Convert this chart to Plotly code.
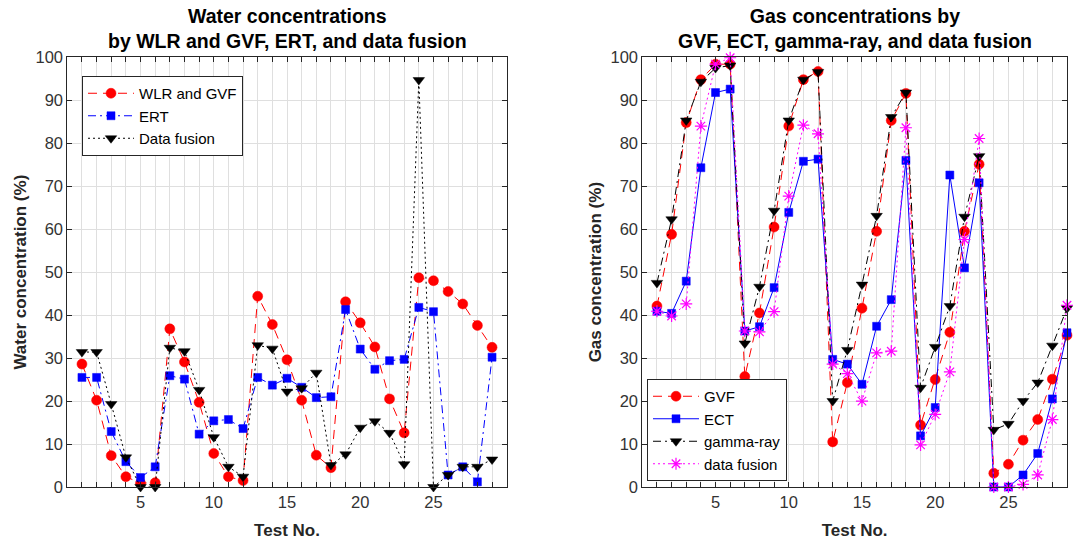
import plotly.graph_objects as go

W, H = 1073, 540

tests = list(range(1, 30))

# Left panel: water concentrations (%)
water_wlr_gvf = [28.6, 20.2, 7.3, 2.4, 0.9, 1.0, 36.8, 29.1, 19.7, 7.8, 2.4, 1.5, 44.4, 37.8, 29.6,
                 20.2, 7.4, 4.5, 43.1, 38.2, 32.6, 20.5, 12.6, 48.7, 48.0, 45.5, 42.6, 37.6, 32.5]
water_ert = [25.5, 25.5, 12.9, 5.9, 2.2, 4.7, 25.9, 25.1, 12.3, 15.4, 15.7, 13.6, 25.5, 23.7, 25.3,
             23.2, 20.8, 21.0, 41.3, 32.1, 27.4, 29.4, 29.7, 41.8, 40.8, 2.8, 4.7, 1.2, 30.2]
water_fusion = [31.4, 31.4, 19.3, 6.9, 0.0, 0.0, 32.4, 31.6, 22.6, 11.6, 4.7, 2.4, 33.0, 32.2, 22.2,
                23.0, 26.6, 5.1, 7.6, 13.8, 15.3, 12.6, 5.3, 94.7, 0.0, 2.8, 4.7, 4.7, 6.4]

# Right panel: gas concentrations (%)
gas_gvf = [42.1, 58.8, 84.8, 94.8, 98.4, 98.4, 25.7, 40.5, 60.5, 84.0, 94.8, 96.7, 10.5, 24.3, 41.6,
           59.5, 85.3, 91.6, 14.4, 25.0, 36.0, 59.5, 75.1, 3.2, 5.3, 10.9, 15.7, 25.1, 35.3]
gas_ect = [40.9, 40.4, 47.9, 74.3, 91.8, 92.6, 36.3, 37.3, 46.4, 63.9, 75.8, 76.3, 29.7, 28.6, 23.9,
           37.4, 43.6, 76.0, 11.9, 18.5, 72.6, 51.0, 70.8, 0.0, 0.0, 2.8, 7.8, 20.5, 35.9]
gas_gamma = [47.5, 62.3, 85.3, 94.3, 97.5, 98.1, 33.4, 46.6, 64.3, 85.3, 94.8, 96.6, 20.0, 31.9, 47.1,
             63.1, 86.1, 91.8, 23.1, 32.6, 42.1, 62.9, 77.0, 13.3, 14.7, 20.0, 24.3, 32.9, 41.6]
gas_fusion = [40.9, 39.8, 42.6, 84.0, 98.4, 99.9, 36.3, 36.1, 40.8, 67.7, 84.2, 82.2, 28.6, 26.4, 20.0,
              31.2, 31.6, 83.6, 9.8, 16.9, 26.8, 57.6, 81.1, 0.0, 0.0, 0.6, 2.8, 15.7, 42.3]

x_labels_shown = [5, 10, 15, 20, 25]

RED, BLUE, BLACK, MAG = "#FF0000", "#0000FF", "#000000", "#FF00FF"
DASH = "9px,6px"
DASHDOT = "8px,4px,2px,4px"
DOT = "2px,3px"

fig = go.Figure()

def add(x, y, name, color, dash, symbol, size, xa, ya, leg, open_marker=False):
    if open_marker:
        marker = dict(symbol=symbol, size=size, color=color, line=dict(color=color, width=1.2))
    else:
        marker = dict(symbol=symbol, size=size, color=color, line=dict(color=color, width=0.5))
    fig.add_trace(go.Scatter(
        x=x, y=y, name=name, mode="lines+markers",
        line=dict(color=color, width=1, dash=dash),
        marker=marker, xaxis=xa, yaxis=ya, legend=leg, cliponaxis=False))

add(tests, water_wlr_gvf, "WLR and GVF", RED, DASH, "circle", 10, "x", "y", "legend")
add(tests, water_ert, "ERT", BLUE, DASHDOT, "square", 8, "x", "y", "legend")
add(tests, water_fusion, "Data fusion", BLACK, DOT, "triangle-down", 10, "x", "y", "legend")

add(tests, gas_gvf, "GVF", RED, DASH, "circle", 10, "x2", "y2", "legend2")
add(tests, gas_ect, "ECT", BLUE, "solid", "square", 8, "x2", "y2", "legend2")
add(tests, gas_gamma, "gamma-ray", BLACK, DASHDOT, "triangle-down", 10, "x2", "y2", "legend2")
add(tests, gas_fusion, "data fusion", MAG, DOT, "asterisk-open", 10, "x2", "y2", "legend2", open_marker=True)

AX = "#262626"
GRID = "#DFDFDF"
FONT = "Liberation Sans, Arial, Helvetica, sans-serif"

def xaxis(dom, xmax, anchor):
    vals = list(range(0, xmax + 1))
    txt = [str(v) if v in x_labels_shown else "" for v in vals]
    return dict(domain=dom, range=[0, xmax], anchor=anchor, tickvals=vals, ticktext=txt,
                ticks="inside", ticklen=5, tickcolor=AX, showline=True, linecolor=AX, linewidth=1,
                mirror="ticks", showgrid=True, gridcolor=GRID, gridwidth=1, zeroline=False,
                automargin=False,
                tickfont=dict(size=16.5, color="#333333"),
                title=dict(text="<b>Test No.</b>", font=dict(size=17, color="#262626"), standoff=14))

def yaxis(anchor, label):
    return dict(domain=[53 / H, 482.7 / H], range=[0, 100], anchor=anchor, dtick=10,
                ticks="inside", ticklen=5, tickcolor=AX, showline=True, linecolor=AX, linewidth=1,
                mirror="ticks", showgrid=True, gridcolor=GRID, gridwidth=1, zeroline=False,
                automargin=False,
                tickfont=dict(size=16.5, color="#333333"),
                title=dict(text="<b>" + label + "</b>", font=dict(size=17, color="#262626"), standoff=4))

legend_common = dict(bordercolor=AX, borderwidth=1, bgcolor="white", font=dict(size=15, color="#000000"),
                     itemwidth=46, tracegroupgap=0, xanchor="left")

fig.update_layout(
    width=W, height=H, margin=dict(l=0, r=0, t=0, b=0, autoexpand=False),
    paper_bgcolor="white", plot_bgcolor="white",
    font=dict(family=FONT, size=16, color="#262626"),
    xaxis=xaxis([67.3 / W, 506.7 / W], 30, "y"),
    yaxis=yaxis("x", "Water concentration (%)"),
    xaxis2=xaxis([642.3 / W, 1067 / W], 29, "y2"),
    yaxis2=yaxis("x2", "Gas concentration (%)"),
    legend=dict(legend_common, x=82 / W, y=1 - 76 / H, yanchor="top"),
    legend2=dict(legend_common, x=647 / W, y=(H - 481) / H, yanchor="bottom"),
    annotations=[
        dict(text="<b>Water concentrations<br>by WLR and GVF, ERT, and data fusion</b>",
             x=(67.3 + 506.7) / 2 / W, y=1 - 28.5 / H, xref="paper", yref="paper",
             xanchor="center", yanchor="middle", showarrow=False,
             font=dict(size=19.5, color="#000000")),
        dict(text="<b>Gas concentrations by<br>GVF, ECT, gamma-ray, and data fusion</b>",
             x=(642.3 + 1067) / 2 / W, y=1 - 28.5 / H, xref="paper", yref="paper",
             xanchor="center", yanchor="middle", showarrow=False,
             font=dict(size=19.5, color="#000000")),
    ],
)

fig.write_html("out.html", config={"displayModeBar": False},
               post_script="document.body.style.margin='0';document.body.style.overflow='hidden';")
